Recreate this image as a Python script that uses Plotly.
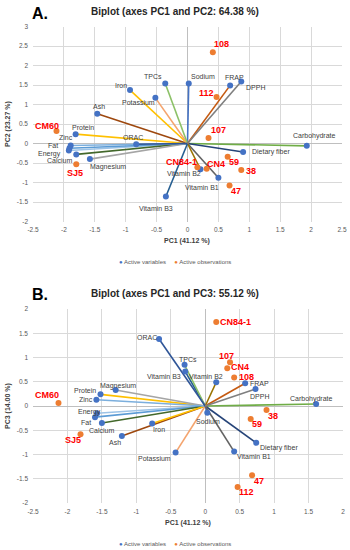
import plotly.graph_objects as go

# ---------------- data ----------------
variables = ["Energy", "Protein", "Fat", "Ash", "Carbohydrate", "Dietary fiber", "Calcium",
             "Iron", "Magnesium", "Potassium", "Sodium", "Zinc", "Vitamin B1", "Vitamin B2",
             "Vitamin B3", "TPCs", "ORAC", "FRAP", "DPPH"]
# Panel A (PC1 vs PC2)
varA_pc1 = [-1.92, -1.81, -1.91, -1.46, 1.93, 0.90, -1.80, -0.93, -1.58, -0.52, 0.02, -1.89,
            0.50, 0.21, -0.35, -0.36, -0.83, 0.69, 0.87]
varA_pc2 = [-0.18, 0.24, -0.12, 0.76, -0.06, -0.22, -0.28, 1.37, -0.40, 1.17, 1.54, -0.05,
            -0.88, -0.66, -1.36, 1.54, -0.02, 1.49, 1.59]
# Panel B (PC1 vs PC3)
varB_pc1 = [-1.57, -1.52, -1.60, -1.21, 1.61, 0.74, -1.50, -0.77, -1.30, -0.43, 0.03, -1.58,
            0.42, 0.16, -0.29, -0.30, -0.67, 0.58, 0.73]
varB_pc3 = [-0.15, 0.24, -0.23, -0.62, 0.04, -0.76, -0.35, -0.36, 0.33, -0.96, -0.14, 0.13,
            -0.94, 0.49, 0.71, 0.85, 1.38, 0.47, 0.35]

observations = ["CM60", "SJ5", "CN84-1", "CN4", "107", "108", "112", "38", "47", "59"]
obsA_pc1 = [-2.12, -1.80, 0.16, 0.31, 0.34, 0.41, 0.47, 0.87, 0.68, 0.65]
obsA_pc2 = [0.32, -0.53, -0.61, -0.65, 0.14, 2.34, 1.19, -0.68, -1.08, -0.34]
obsB_pc1 = [-2.13, -1.81, 0.16, 0.32, 0.36, 0.42, 0.47, 0.89, 0.68, 0.66]
obsB_pc3 = [0.06, -0.58, 1.73, 0.78, 0.90, 0.59, -1.67, -0.08, -1.43, -0.27]

tickvals_x = [-2.5, -2, -1.5, -1, -0.5, 0, 0.5, 1, 1.5, 2, 2.5]
ticktext_x = ["-2.5", "-2", "-1.5", "-1", "-0.5", "0", "0.5", "1", "1.5", "2", "2.5"]
tickvals_yA = [-2, -1.5, -1, -0.5, 0, 0.5, 1, 1.5, 2, 2.5, 3]
ticktext_yA = ["-2", "-1.5", "-1", "-0.5", "0", "0.5", "1", "1.5", "2", "2.5", "3"]
tickvals_yB = [-2, -1.5, -1, -0.5, 0, 0.5, 1, 1.5, 2]
ticktext_yB = ["-2", "-1.5", "-1", "-0.5", "0", "0.5", "1", "1.5", "2"]

# ---------------- styles ----------------
line_colors = {
    "Energy": "#9DC3E6", "Protein": "#FFC000", "Fat": "#5B9BD5", "Ash": "#9E480E",
    "Carbohydrate": "#70AD47", "Dietary fiber": "#264478", "Calcium": "#43682B",
    "Iron": "#FFC000", "Magnesium": "#A5A5A5", "Potassium": "#F4A46E", "Sodium": "#4472C4",
    "Zinc": "#7CAFDD", "Vitamin B1": "#636363", "Vitamin B2": "#997300",
    "Vitamin B3": "#255E91", "TPCs": "#8CC168", "ORAC": "#2F5597", "FRAP": "#C55A11",
    "DPPH": "#7F7F7F",
}
VAR_DOT = "#4472C4"
OBS_DOT = "#ED7D31"
FONT = "Liberation Sans, Arial, sans-serif"

# label offsets (px, +y = up) relative to each point
offA_var = {"Energy": (-19, -3), "Protein": (7, 7), "Fat": (-16, 3), "Ash": (1.5, 7),
            "Carbohydrate": (8, 10), "Dietary fiber": (28, 0), "Calcium": (-16.5, -6),
            "Iron": (-9, 5), "Magnesium": (18.5, -8), "Potassium": (-17, -4.5),
            "Sodium": (14, 7), "Zinc": (-4.5, 8), "Vitamin B1": (-16, -9.5),
            "Vitamin B2": (-16, -4), "Vitamin B3": (-9.5, -11.5), "TPCs": (-12, 7),
            "ORAC": (-3, 7), "FRAP": (4, 8), "DPPH": (14.5, -6.5)}
offA_obs = {"CM60": (-9.5, 5), "SJ5": (-1, -9), "CN84-1": (-15.7, 5), "CN4": (9, 5),
            "107": (9.7, 8), "108": (9, 8), "112": (-9.7, 3.7), "38": (10, -0.7),
            "47": (6.7, -5.3), "59": (6.6, -5.6)}
offB_var = {"Energy": (-8, 1.6), "Protein": (-16, 3.6), "Fat": (-9.5, -5), "Ash": (-7, -6.7),
            "Carbohydrate": (-4.5, 4.7), "Dietary fiber": (23, -5.3), "Calcium": (0, -7.7),
            "Iron": (6.6, -5.7), "Magnesium": (2.6, 4.3), "Potassium": (-21, -5.6),
            "Sodium": (0.7, -9), "Zinc": (-10.3, 0), "Vitamin B1": (20, -5),
            "Vitamin B2": (-10.3, 5.3), "Vitamin B3": (-21, -4.5), "TPCs": (3.3, 5.7),
            "ORAC": (-12.3, 1.3), "FRAP": (14, -0.5), "DPPH": (4, -7.5)}
offB_obs = {"CM60": (-11.7, 8.3), "SJ5": (-8, -5.7), "CN84-1": (19, 0), "CN4": (12.6, 1),
            "107": (-3.5, 6.8), "108": (12, 0.5), "112": (9.3, -5), "38": (6.3, -5.7),
            "47": (6.7, -5.4), "59": (6.7, -5.3)}

W, H = 350, 550


def px(x):
    return x / W


def py(y):
    return 1 - y / H


fig = go.Figure()
annotations = []


def add_panel(xa, ya, vx, vy, ox, oy, offv, offo):
    xr, yr = xa.replace("axis", ""), ya.replace("axis", "")
    for name, x, y in zip(variables, vx, vy):
        fig.add_trace(go.Scatter(x=[0, x], y=[0, y], mode="lines",
                                 line=dict(color=line_colors[name], width=1.6),
                                 xaxis=xr, yaxis=yr, showlegend=False, hoverinfo="skip"))
    fig.add_trace(go.Scatter(x=vx, y=vy, mode="markers", name="Active variables",
                             marker=dict(color=VAR_DOT, size=6), text=variables,
                             xaxis=xr, yaxis=yr, showlegend=False))
    fig.add_trace(go.Scatter(x=ox, y=oy, mode="markers", name="Active observations",
                             marker=dict(color=OBS_DOT, size=6), text=observations,
                             xaxis=xr, yaxis=yr, showlegend=False))
    for name, x, y in zip(variables, vx, vy):
        dx, dy = offv[name]
        annotations.append(dict(x=x, y=y, xref=xr, yref=yr, text=name, showarrow=False,
                                xshift=dx, yshift=dy, xanchor="center", yanchor="middle",
                                font=dict(family=FONT, size=7, color="#404040")))
    for name, x, y in zip(observations, ox, oy):
        dx, dy = offo[name]
        annotations.append(dict(x=x, y=y, xref=xr, yref=yr, text="<b>%s</b>" % name,
                                showarrow=False, xshift=dx, yshift=dy,
                                xanchor="center", yanchor="middle",
                                font=dict(family=FONT, size=9, color="#FF0000")))


add_panel("xaxis", "yaxis", varA_pc1, varA_pc2, obsA_pc1, obsA_pc2, offA_var, offA_obs)
add_panel("xaxis2", "yaxis2", varB_pc1, varB_pc3, obsB_pc1, obsB_pc3, offB_var, offB_obs)

axis_common = dict(showgrid=True, gridcolor="#D9D9D9", gridwidth=1, zeroline=True,
                   zerolinecolor="#BFBFBF", zerolinewidth=1, showline=False, ticks="",
                   automargin=False,
                   tickfont=dict(family=FONT, size=6.5, color="#595959"), fixedrange=True)

fig.update_layout(
    template="none",
    width=W, height=H, margin=dict(l=0, r=0, t=0, b=0, pad=0, autoexpand=False),
    paper_bgcolor="white", plot_bgcolor="white", showlegend=False,
    xaxis=dict(domain=[px(33), px(342)], range=[-2.5, 2.5], anchor="y",
               tickvals=tickvals_x, ticktext=ticktext_x, ticklabelstandoff=3, **axis_common),
    yaxis=dict(domain=[py(221.5), py(26.5)], range=[-2, 3], anchor="x",
               tickvals=tickvals_yA, ticktext=ticktext_yA, ticklabelstandoff=4, **axis_common),
    xaxis2=dict(domain=[px(33), px(343)], range=[-2.5, 2], anchor="y2",
                tickvals=tickvals_x[:-1], ticktext=ticktext_x[:-1], ticklabelstandoff=3,
                **axis_common),
    yaxis2=dict(domain=[py(503), py(309)], range=[-2, 2], anchor="x2",
                tickvals=tickvals_yB, ticktext=ticktext_yB, ticklabelstandoff=4, **axis_common),
)

# titles, axis titles, legends
paper_texts = [
    ("<b>A.</b>", 40, 13, 16, "#000000", 0),
    ("<b>Biplot (axes PC1 and PC2: 64.38 %)</b>", 175, 11, 10, "#262626", 0),
    ("<b>PC1 (41.12 %)</b>", 187, 241, 7, "#404040", 0),
    ("<b>PC2 (23.27 %)</b>", 8, 124, 7, "#404040", -90),
    ("<b>B.</b>", 40, 294, 16, "#000000", 0),
    ("<b>Biplot (axes PC1 and PC3: 55.12 %)</b>", 175, 293, 10, "#262626", 0),
    ("<b>PC1 (41.12 %)</b>", 188, 523, 7, "#404040", 0),
    ("<b>PC3 (14.00 %)</b>", 8, 406, 7, "#404040", -90),
]
for text, x, y, size, color, ang in paper_texts:
    annotations.append(dict(x=px(x), y=py(y), xref="paper", yref="paper", text=text,
                            showarrow=False, xanchor="center", yanchor="middle",
                            textangle=ang, font=dict(family=FONT, size=size, color=color)))

legend_text = ("<span style='color:%s'>●</span> Active variables     "
               "<span style='color:%s'>●</span> Active observations") % (VAR_DOT, OBS_DOT)
for ly in (262, 544):
    annotations.append(dict(x=px(175), y=py(ly), xref="paper", yref="paper", text=legend_text,
                            showarrow=False, xanchor="center", yanchor="middle",
                            font=dict(family=FONT, size=6, color="#595959")))

fig.update_layout(annotations=annotations)
fig.write_html("out.html",
               config={"displayModeBar": False, "staticPlot": True},
               post_script="document.body.style.margin='0';"
                           "document.body.style.overflow='hidden';")
